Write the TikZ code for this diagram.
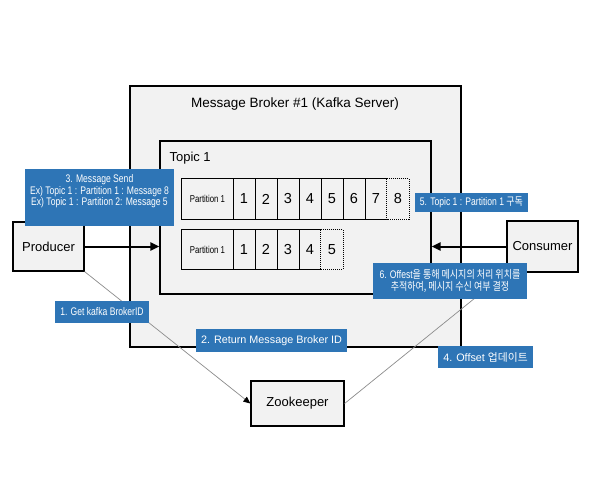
\documentclass[tikz,border=0pt]{standalone}
\usepackage{fontspec}
\setmainfont{Liberation Sans}
\newfontfamily\nar{Liberation Sans}[FakeStretch=0.78]
\newfontfamily\kr{Noto Sans CJK KR}
\newfontfamily\krnar{Noto Sans CJK KR}[FakeStretch=0.82]
\usetikzlibrary{arrows.meta}
\definecolor{boxgray}{HTML}{F2F2F2}
\definecolor{lblue}{HTML}{2E75B6}
\definecolor{thingray}{HTML}{8C8C8C}
\begin{document}
\begin{tikzpicture}[x=1pt,y=-1pt,
  box/.style={draw=black,line width=1.2pt,fill=boxgray,inner sep=0pt},
  cellfill/.style={fill=boxgray,inner sep=0pt,minimum width=22pt,font=\fontsize{14.5}{16}\selectfont},
  pcell/.style={fill=boxgray,inner sep=0pt,minimum width=51pt,font=\nar\fontsize{10}{11}\selectfont},
  cellline/.style={draw=black,line width=1.2pt},
  dotline/.style={draw=black,line width=1pt,dash pattern=on 1pt off 1pt},
  lbl/.style={fill=lblue,text=white,inner sep=0pt,align=center},
  lblnar/.style={lbl,font=\nar\fontsize{11}{11.5}\selectfont},
  lblreg/.style={lbl,font=\fontsize{10.8}{12}\selectfont},
  mainarrow/.style={line width=2pt,-{Triangle[length=9pt,width=8pt]}},
  thinline/.style={draw=thingray,line width=0.7pt},
  ent/.style={box,font=\fontsize{13}{15}\selectfont},
]
\useasboundingbox (0,0) rectangle (596,503);
\fill[white] (0,0) rectangle (596,503);

% broker and topic
\node[box,minimum width=331pt,minimum height=261pt] (broker) at (295.5,216.5) {};
\node[font=\fontsize{13.5}{16}\selectfont] (title) at (295,104) {Message Broker \#1 (Kafka Server)};
\node[box,minimum width=271pt,minimum height=153pt] (topic) at (295.5,217.5) {};
\node[anchor=west,font=\fontsize{13}{15}\selectfont] (tname) at (166,158) {Topic 1};

% row 1
\node[pcell,minimum height=40pt] (ap) at (207.5,199) {Partition 1};
\node[cellfill,minimum height=40pt] (a1) at (244,199) {1};
\node[cellfill,minimum height=40pt] (a2) at (266,199) {2};
\node[cellfill,minimum height=40pt] (a3) at (288,199) {3};
\node[cellfill,minimum height=40pt] (a4) at (310,199) {4};
\node[cellfill,minimum height=40pt] (a5) at (332,199) {5};
\node[cellfill,minimum height=40pt] (a6) at (354,199) {6};
\node[cellfill,minimum height=40pt] (a7) at (376,199) {7};
\node[cellfill,minimum height=40pt] (a8) at (398,199) {8};
\draw[cellline] (a7.north east) -- (ap.north west) -- (ap.south west) -- (a7.south east);
\foreach \c in {ap,a1,a2,a3,a4,a5,a6} {\draw[cellline] (\c.north east) -- (\c.south east);}
\draw[dotline] (a8.north west) rectangle (a8.south east);

% row 2
\node[pcell,minimum height=39pt] (bp) at (207.5,249.5) {Partition 1};
\node[cellfill,minimum height=39pt] (b1) at (244,249.5) {1};
\node[cellfill,minimum height=39pt] (b2) at (266,249.5) {2};
\node[cellfill,minimum height=39pt] (b3) at (288,249.5) {3};
\node[cellfill,minimum height=39pt] (b4) at (310,249.5) {4};
\node[cellfill,minimum height=39pt] (b5) at (332,249.5) {5};
\draw[cellline] (b4.north east) -- (bp.north west) -- (bp.south west) -- (b4.south east);
\foreach \c in {bp,b1,b2,b3} {\draw[cellline] (\c.north east) -- (\c.south east);}
\draw[dotline] (b5.north west) rectangle (b5.south east);

% entities
\node[ent,minimum width=71pt,minimum height=49pt] (prod) at (48.5,246.5) {Producer};
\node[ent,minimum width=71pt,minimum height=51pt] (cons) at (542.5,246.5) {Consumer};
\node[ent,minimum width=93pt,minimum height=45pt] (zk) at (297.5,403.5) {Zookeeper};

% connectors
\draw[mainarrow] (prod.east) -- (topic.west |- prod.east);
\draw[mainarrow] (cons.west) -- (topic.east |- cons.west);
\draw[thinline,-{Triangle[length=7pt,width=6pt,color=black]}] (prod.south east) -- (zk.west);
\draw[thinline] (zk.east) -- (cons.south west);

% labels
\node[lblnar,minimum width=149pt,minimum height=57pt] (l3) at (99.5,197.5) {3. Message Send\\Ex) Topic 1 : Partition 1 : Message 8\\Ex) Topic 1 : Partition 2: Message 5\\[3pt]};
\node[lblnar,minimum width=113pt,minimum height=19pt] (l5) at (471.5,202.5) {5. Topic 1 : Partition 1 {\krnar 구독}};
\node[lblnar,minimum width=154pt,minimum height=36pt] (l6) at (450,281) {6. Offest{\krnar 을 통해 메시지의 처리 위치를}\\{\krnar 추적하여, 메시지 수신 여부 결정}};
\node[lblnar,minimum width=94pt,minimum height=22pt] (l1) at (102,312) {1. Get kafka BrokerID};
\node[lblreg,minimum width=151pt,minimum height=23pt] (l2) at (271.5,340.5) {2. Return Message Broker ID};
\node[lblreg,minimum width=95pt,minimum height=22pt] (l4) at (485.5,357) {4. Offset {\kr 업데이트}};
\end{tikzpicture}
\end{document}
